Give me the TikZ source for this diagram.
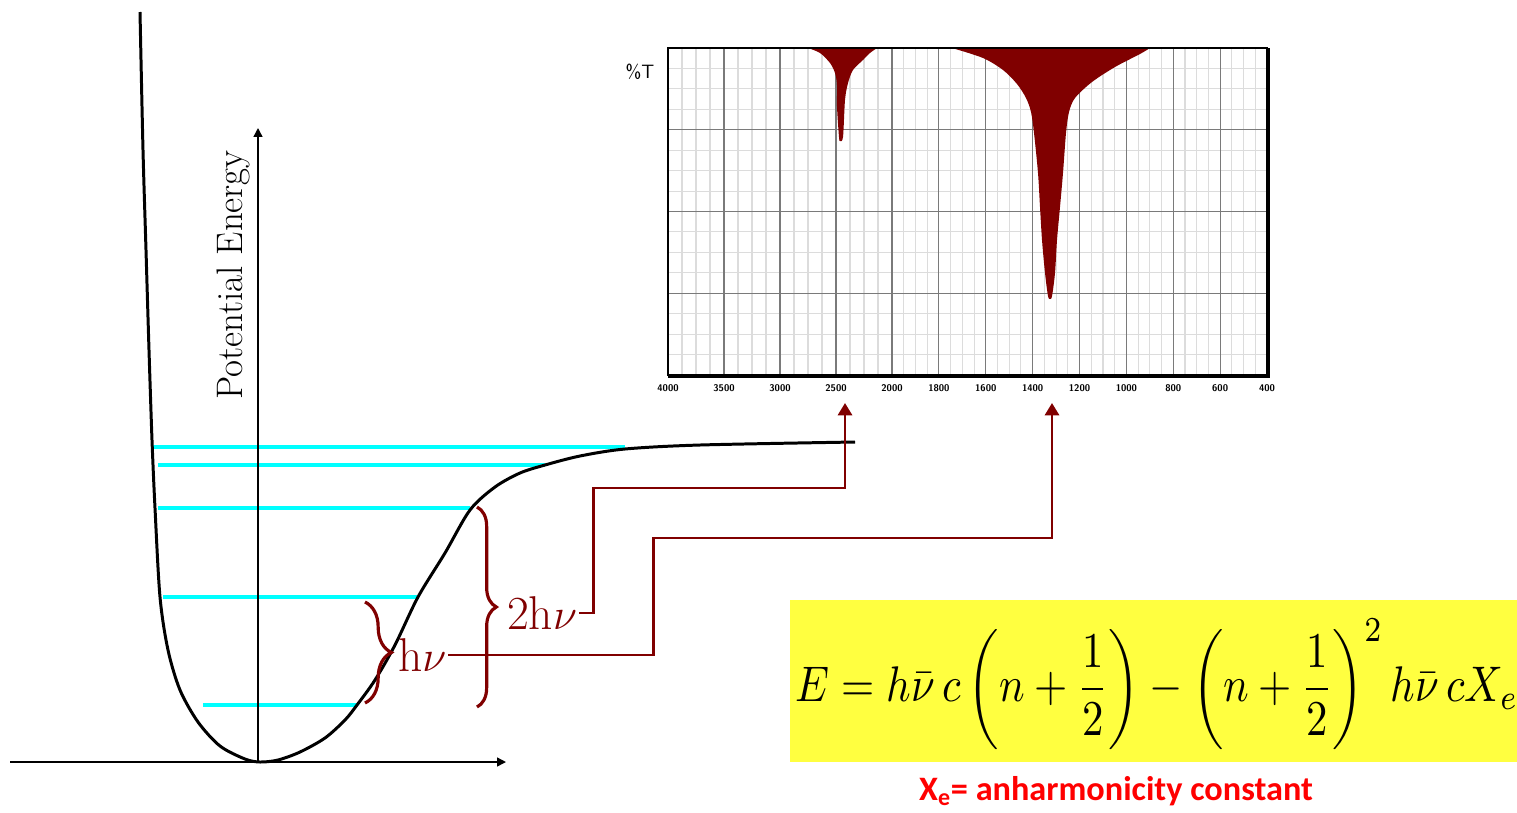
\documentclass[tikz,border=0pt]{standalone}
\usepackage{fontspec}
\usepackage{amsmath}
\newfontfamily\calibri{Carlito}
\usetikzlibrary{arrows.meta,decorations.pathreplacing,calc}
\definecolor{darkred}{HTML}{800000}
\definecolor{levelcyan}{HTML}{00FFFF}
\definecolor{eqyellow}{HTML}{FFFF40}
\definecolor{minorgrid}{HTML}{DCDCDC}
\definecolor{majorgrid}{HTML}{7A7A7A}

\begin{document}
\begin{tikzpicture}[x=0.02cm, y=-0.02cm,
  level/.style={levelcyan, line width=2.8pt},
  conn/.style={darkred, line width=1.6pt},
  pointer/.style={conn, -{Triangle[width=8pt,length=7pt]}},
  bracket/.style={darkred, line width=1.8pt, decorate, decoration={brace, amplitude=#1}},
  axis/.style={line width=0.8pt, -{Triangle[width=5pt,length=5pt]}},
  tick/.style={font=\fontsize{5.5}{6}\selectfont\sffamily\bfseries, inner sep=0pt},
  hvlbl/.style={darkred, font=\fontsize{27}{30}\selectfont, inner sep=1pt}
]
\useasboundingbox (0,0) rectangle (1517,812);

% spectrum grid
\foreach \i in {0,...,16}
  \draw[minorgrid, line width=0.6pt] ({668+\i*14},48) -- ++(0,327);
\foreach \i in {1,...,32}
  \draw[minorgrid, line width=0.6pt] ({892+\i*11.72},48) -- ++(0,327);
\foreach \j in {1,...,15}
  \draw[minorgrid, line width=0.6pt] (668,{48+\j*20.44}) -- (1267,{48+\j*20.44});
\foreach \i in {1,...,3}
  \draw[majorgrid, line width=0.6pt] ({668+\i*56},48) -- ++(0,327);
\foreach \i in {0,...,7}
  \draw[majorgrid, line width=0.6pt] ({892+\i*46.875},48) -- ++(0,327);
\foreach \j in {1,2,3}
  \draw[majorgrid, line width=0.6pt] (668,{48+\j*81.75}) -- (1267,{48+\j*81.75});

% absorption peaks
\fill[darkred] (808,48) plot[smooth] coordinates {(808,48) (820,53) (830,63) (835,73) (837,85)
  (837,107) (839,137) (840,141) (843,137) (845,100) (848,83) (853,70) (863,60) (870,53) (877,48)} -- cycle;
\fill[darkred] (952,48) plot[smooth] coordinates {(952,48) (983,58) (1003,70) (1017,84) (1026,98)
  (1031,112) (1034,133) (1038,173) (1040,207) (1042,240) (1045,273) (1048,296) (1050,299)
  (1052,296) (1055,273) (1057,240) (1060,207) (1063,173) (1066,133) (1069,112) (1075,98)
  (1092,82) (1115,67) (1140,54) (1150,48)} -- cycle;

% frame
\draw[line width=0.8pt] (668,48) rectangle (1267,375);
\draw[line width=2pt] (668,376) -- (1268,376) -- (1268,48);
\node[font=\fontsize{11}{12}\selectfont\sffamily] (pctT) at (640,72) {\%T};
\foreach \w [count=\k from 0] in {4000,3500,3000,2500,2000}
  \node[tick] (ta\k) at ({668+\k*56},388) {\w};
\foreach \w [count=\k from 1] in {1800,1600,1400,1200,1000,800,600,400}
  \node[tick] (tb\k) at ({892+\k*46.875},388) {\w};

% energy levels
\draw[level] (153,447) -- (625,447);
\draw[level] (158,465) -- (545,465);
\draw[level] (158,508) -- (470,508);
\draw[level] (163,597) -- (417,597);
\draw[level] (203,705) -- (357,705);

% axes
\coordinate (origin) at (258,762);
\coordinate (ytop) at (258,128);
\coordinate (xleft) at (10,762);
\coordinate (xright) at (506,762);
\draw[axis] (origin) -- (ytop);
\draw[axis] (xleft) -- (xright);
\node[rotate=90, font=\fontsize{21}{24}\selectfont] (pe) at (233,275) {Potential Energy};

% potential curve
\draw[line width=1.7pt] plot[smooth] coordinates {(140,12) (143,150) (146,250) (149,350) (152,440)
  (155,508) (160,597) (168,650) (180,690) (198,722) (220,746) (245,759) (260,762) (278,760)
  (300,752) (325,738) (345,720) (357,705) (375,680) (395,645) (418,597) (445,553) (470,510)
  (495,487) (520,473) (545,465) (580,456) (625,449) (700,445) (855,442)};

% braces and labels
\draw[bracket=11pt] (477,507) -- (477,707);
\draw[bracket=15pt] (365,602) -- (365,703);
\node[hvlbl, anchor=west] (twohv) at (505,613) {2h$\nu$};
\node[hvlbl, anchor=west] (hv) at (396,655) {h$\nu$};

% connectors to the peaks
\coordinate (pk1) at (845,403);
\coordinate (pk2) at (1052,403);
\draw[pointer] (twohv.east) -| ++(14,-125) -| (pk1);
\draw[pointer] (hv.east) -| ++(205,-117) -| (pk2);

% equation
\node[fill=eqyellow, minimum width=14.54cm, minimum height=3.24cm, inner sep=0pt] (eqbox) at (1153.5,681) {};
\node[inner sep=0pt] (eq) at (1157,684) {\scalebox{2.43}[2.85]{$\displaystyle E=h\bar{\nu}\,c\left(n+\frac{1}{2}\right)-\left(n+\frac{1}{2}\right)^{2} h\bar{\nu}\,cX_{e}$}};
\node[text=red, font=\calibri\bfseries\fontsize{19.5}{22}\selectfont] (xe) at (1116,791) {X\textsubscript{e}= anharmonicity constant};
\end{tikzpicture}
\end{document}
